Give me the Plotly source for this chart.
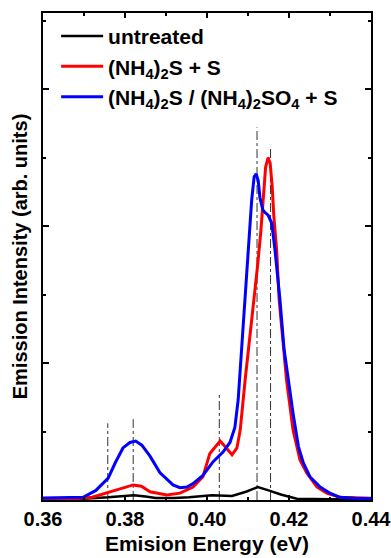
import plotly.graph_objects as go

# Emission spectra (energy in eV, intensity in arb. units)
untreated_x = [0.3600, 0.3700, 0.3759, 0.3800, 0.3822, 0.3850, 0.3875, 0.3920, 0.3956,
               0.4012, 0.4040, 0.4061, 0.4095, 0.4124, 0.4150, 0.4180, 0.4219, 0.4300, 0.4400]
untreated_y = [0.010, 0.010, 0.020, 0.030, 0.035, 0.025, 0.015, 0.015, 0.020,
               0.035, 0.030, 0.030, 0.060, 0.095, 0.070, 0.040, 0.010, 0.005, 0.005]

nh4s_x = [0.3600, 0.3680, 0.3720, 0.3755, 0.3788, 0.3820, 0.3840, 0.3861, 0.3902, 0.3934,
          0.3966, 0.3990, 0.4007, 0.4020, 0.4032, 0.4044, 0.4061, 0.4073, 0.4081, 0.4093,
          0.4103, 0.4115, 0.4123, 0.4131, 0.4137, 0.4143, 0.4149, 0.4154, 0.4159, 0.4163,
          0.4170, 0.4176, 0.4194, 0.4210, 0.4227, 0.4243, 0.4268, 0.4292, 0.4324, 0.4400]
nh4s_y = [0.010, 0.010, 0.020, 0.050, 0.080, 0.110, 0.100, 0.060, 0.036, 0.050,
          0.095, 0.170, 0.340, 0.390, 0.430, 0.390, 0.330, 0.380, 0.510, 0.876,
          1.150, 1.460, 1.700, 1.950, 2.190, 2.430, 2.500, 2.460, 2.290, 2.070,
          1.820, 1.460, 0.876, 0.510, 0.290, 0.200, 0.095, 0.050, 0.020, 0.012]

nh4s_so4_x = [0.3600, 0.3673, 0.3698, 0.3729, 0.3759, 0.3776, 0.3795, 0.3812, 0.3826, 0.3841,
              0.3861, 0.3885, 0.3917, 0.3934, 0.3951, 0.3966, 0.3990, 0.4015, 0.4039, 0.4056,
              0.4068, 0.4076, 0.4083, 0.4093, 0.4101, 0.4109, 0.4115, 0.4120, 0.4125, 0.4129,
              0.4136, 0.4141, 0.4149, 0.4158, 0.4166, 0.4178, 0.4188, 0.4198, 0.4210, 0.4223,
              0.4235, 0.4251, 0.4276, 0.4300, 0.4324, 0.4361, 0.4400]
nh4s_so4_y = [0.015, 0.015, 0.020, 0.070, 0.160, 0.270, 0.380, 0.420, 0.430, 0.400,
              0.320, 0.200, 0.110, 0.090, 0.095, 0.120, 0.180, 0.280, 0.350, 0.420,
              0.530, 0.730, 1.050, 1.460, 1.820, 2.190, 2.360, 2.380, 2.330, 2.210,
              2.120, 2.100, 2.080, 2.020, 1.820, 1.460, 1.100, 0.876, 0.630, 0.390,
              0.270, 0.170, 0.095, 0.050, 0.020, 0.012, 0.010]

# Reference peak markers (dash-dot vertical lines)
marker_x = [0.3758, 0.3820, 0.4030, 0.4122, 0.4155]
marker_top = [0.56, 0.59, 0.78, 2.72, 2.57]

x_ticks = [0.36, 0.38, 0.40, 0.42, 0.44]
x_tick_labels = ["0.36", "0.38", "0.40", "0.42", "0.44"]

FONT = "Liberation Sans, Arial, sans-serif"

fig = go.Figure()

for mx, mt in zip(marker_x, marker_top):
    fig.add_trace(go.Scatter(x=[mx, mx], y=[0, mt], mode="lines",
                             line=dict(color="#333333", width=1, dash="dashdot"),
                             showlegend=False, hoverinfo="skip"))

fig.add_trace(go.Scatter(x=untreated_x, y=untreated_y, mode="lines", name="untreated",
                         line=dict(color="black", width=2.5)))
fig.add_trace(go.Scatter(x=nh4s_x, y=nh4s_y, mode="lines", name="(NH<sub>4</sub>)<sub>2</sub>S + S",
                         line=dict(color="#ff0000", width=3)))
fig.add_trace(go.Scatter(x=nh4s_so4_x, y=nh4s_so4_y, mode="lines",
                         name="(NH<sub>4</sub>)<sub>2</sub>S / (NH<sub>4</sub>)<sub>2</sub>SO<sub>4</sub> + S",
                         line=dict(color="#0000ff", width=3)))

fig.update_layout(
    width=391, height=558,
    margin=dict(l=43, r=20, t=13, b=58),
    paper_bgcolor="white", plot_bgcolor="white",
    font=dict(family=FONT, size=20, color="black", weight="bold"),
    legend=dict(x=0.04, y=0.994, xanchor="left", yanchor="top",
                bgcolor="rgba(0,0,0,0)", font=dict(size=21, weight="bold"),
                itemwidth=42, tracegroupgap=0),
)
fig.update_xaxes(
    range=[0.36, 0.44], tickvals=x_ticks, ticktext=x_tick_labels,
    ticklabeloverflow="allow", automargin=False,
    ticks="inside", ticklen=5, tickwidth=2, tickcolor="black",
    minor=dict(dtick=0.01, ticks="inside", ticklen=3, tickwidth=2, tickcolor="black"),
    showline=True, linewidth=2, linecolor="black", mirror="ticks",
    showgrid=False, zeroline=False,
    tickfont=dict(size=20, weight="bold"),
    title=dict(text="Emision Energy (eV)", font=dict(size=21, weight="bold"), standoff=7),
)
fig.update_yaxes(
    range=[0, 3.555], dtick=1, tick0=0, showticklabels=False, automargin=False,
    ticks="inside", ticklen=6, tickwidth=2, tickcolor="black",
    minor=dict(dtick=0.5, ticks="inside", ticklen=3, tickwidth=2, tickcolor="black"),
    showline=True, linewidth=2, linecolor="black", mirror="ticks",
    showgrid=False, zeroline=False,
    title=dict(text="Emission Intensity (arb. units)", font=dict(size=20, weight="bold"), standoff=8),
)

fig.write_html("out.html")
